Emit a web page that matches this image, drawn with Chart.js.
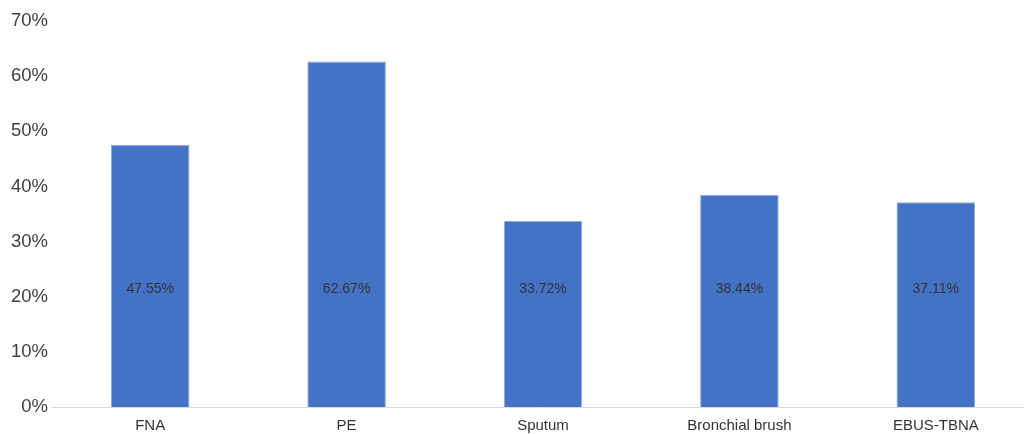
<!DOCTYPE html>
<html>
<head>
<meta charset="utf-8">
<script src="https://cdn.jsdelivr.net/npm/chart.js@4/dist/chart.umd.min.js"></script>
<style>
  html, body { margin: 0; padding: 0; background: #fff; overflow: hidden; }
  #wrap { width: 1034px; height: 434px; position: relative; }
</style>
</head>
<body>
<div id="wrap"><canvas id="chart"></canvas></div>
<script>
/* Data */
const categories = ['FNA', 'PE', 'Sputum', 'Bronchial brush', 'EBUS-TBNA'];
const rates = [47.55, 62.67, 33.72, 38.44, 37.11];
const yTicks = [0, 10, 20, 30, 40, 50, 60, 70];
const labelLevel = 21.4; // labels sit at the same height in every bar

/* Value labels inside bars */
const valueLabels = {
  id: 'valueLabels',
  afterDatasetsDraw(chart) {
    const { ctx } = chart;
    const meta = chart.getDatasetMeta(0);
    const y = chart.scales.y.getPixelForValue(labelLevel);
    ctx.save();
    ctx.font = '14px "Liberation Sans", Arial, sans-serif';
    ctx.fillStyle = '#333333';
    ctx.textAlign = 'center';
    ctx.textBaseline = 'middle';
    meta.data.forEach((bar, i) => {
      ctx.fillText(rates[i].toFixed(2) + '%', bar.x, y);
    });
    ctx.restore();
  }
};

const ctx = document.getElementById('chart').getContext('2d');
new Chart(ctx, {
  type: 'bar',
  data: {
    labels: categories,
    datasets: [{
      data: rates,
      backgroundColor: '#4472C4',
      borderColor: '#8FAADC',
      borderWidth: 1,
      categoryPercentage: 1,
      barPercentage: 0.4
    }]
  },
  options: {
    responsive: true,
    maintainAspectRatio: false,
    animation: false,
    layout: { padding: { top: 21, right: 0, left: 0, bottom: 0 } },
    plugins: { legend: { display: false }, tooltip: { enabled: false } },
    scales: {
      x: {
        grid: { display: false },
        border: { color: '#d9d9d9', width: 1 },
        ticks: { color: '#333333', font: { family: '"Liberation Sans", Arial, sans-serif', size: 15 }, padding: 2 },
        afterFit(s) { s.height = 27; }
      },
      y: {
        min: 0, max: 70,
        grid: { display: false, drawTicks: false },
        border: { display: false },
        afterBuildTicks(s) { s.ticks = yTicks.map(v => ({ value: v })); },
        ticks: {
          color: '#404040',
          font: { family: '"Liberation Sans", Arial, sans-serif', size: 18.5 },
          padding: 4,
          callback: v => v + '%'
        },
        afterFit(s) { s.width = 52; }
      }
    }
  },
  plugins: [valueLabels]
});
</script>
</body>
</html>
